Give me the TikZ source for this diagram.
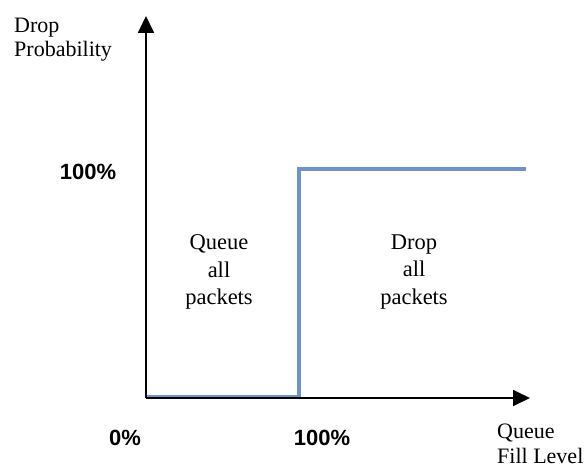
\documentclass[tikz,border=0pt]{standalone}
\usepackage{fontspec}
\setmainfont{Liberation Serif}
\setsansfont{Liberation Sans}
\usetikzlibrary{arrows.meta}
\definecolor{stepblue}{HTML}{6F93C6}
\begin{document}
\begin{tikzpicture}[x=1pt,y=-1pt,
  axis/.style={line width=1.8pt,-{Triangle[length=17pt,width=16pt]}},
  curve/.style={stepblue,line width=3.6pt,line join=miter},
  lbl/.style={font=\fontsize{22}{24.5}\selectfont,align=left,inner sep=0pt},
  region/.style={font=\fontsize{22.5}{27.5}\selectfont,align=center,inner sep=0pt},
  tick/.style={font=\sffamily\bfseries\fontsize{22}{24}\selectfont,inner sep=0pt}]
\useasboundingbox (0,0) rectangle (588,468);
% axes
\coordinate (origin) at (146,398);
\coordinate (ytip) at (146,16);
\coordinate (xtip) at (530,398);
% step function
\coordinate (s0) at (146,397);
\coordinate (s1) at (299,397);
\coordinate (s2) at (299,169);
\coordinate (s3) at (526,169);
\draw[curve] (s0) -- (s1) -- (s2) -- (s3);
\draw[axis] (origin) -- (ytip);
\draw[axis] (origin) -- (xtip);
% labels (base anchor sits on the last line)
\node[lbl,anchor=base west] (ylab) at (14,57) {Drop\\Probability};
\node[lbl,anchor=base west] (xlab) at (497,463) {Queue\\Fill Level};
\node[tick] (p100y) at (88,172) {100\%};
\node[tick] (p0) at (125,438) {0\%};
\node[tick] (p100x) at (322,438) {100\%};
\node[region] (queue) at (219,272) {Queue\\all\\packets};
\node[region] (drop) at (414,272) {Drop\\all\\packets};
\end{tikzpicture}
\end{document}
